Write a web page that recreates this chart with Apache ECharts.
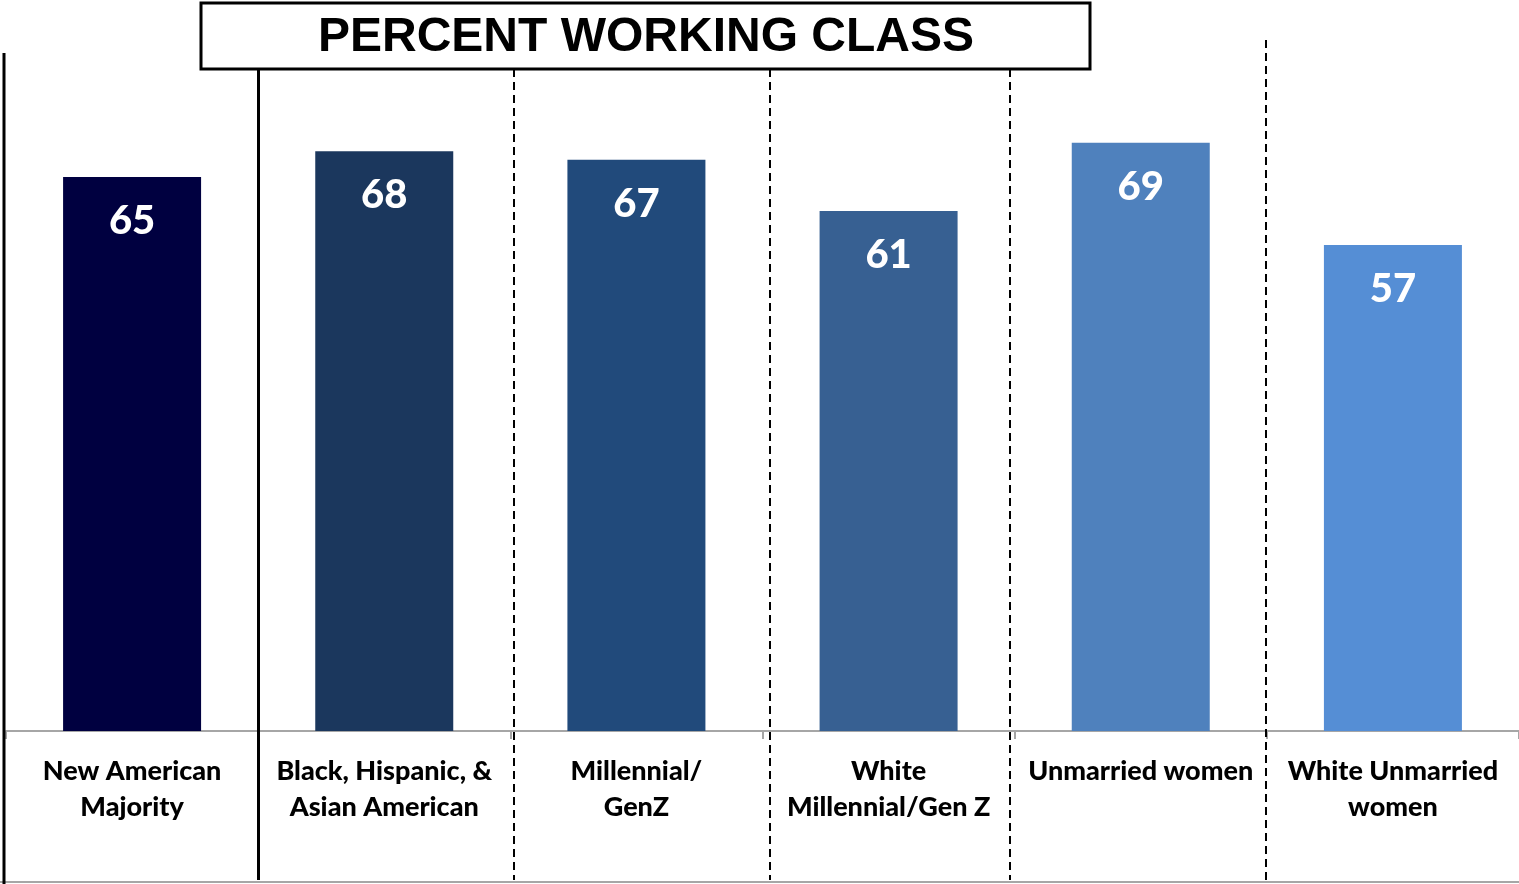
<!DOCTYPE html>
<html>
<head>
<meta charset="utf-8">
<script src="https://cdn.jsdelivr.net/npm/echarts@6/dist/echarts.min.js"></script>
<style>html,body{margin:0;padding:0;background:#fff}#c{width:1519px;height:884px}</style>
</head>
<body>
<div id="c"></div>
<script>
const categories = ['New American\nMajority', 'Black, Hispanic, &\nAsian American', 'Millennial/\nGenZ', 'White\nMillennial/Gen Z', 'Unmarried women', 'White Unmarried\nwomen'];
const values = [65, 68, 67, 61, 69, 57];
const barColors = ['#000040', '#1b375d', '#214a7b', '#376092', '#4f81bd', '#558ed5'];
const titleText = 'PERCENT WORKING CLASS';

const chart = echarts.init(document.getElementById('c'), null, {renderer: 'canvas'});
const vline = (x, y1, y2, dashed) => ({
  type: 'line', z: 100,
  shape: {x1: x, y1: y1, x2: x, y2: y2},
  style: {stroke: '#000', lineWidth: dashed ? 2 : 3, lineDash: dashed ? [8, 5] : null}
});
chart.setOption({
  animation: false,
  grid: {left: 6, right: 0, top: 49, bottom: 153},
  xAxis: {
    type: 'category',
    data: categories,
    axisLine: {lineStyle: {color: '#a6a6a6', width: 2}},
    axisTick: {show: true, length: 8, lineStyle: {color: '#a6a6a6', width: 2}},
    axisLabel: {
      margin: 22, lineHeight: 36, color: '#000',
      fontFamily: 'Lato', fontWeight: 900, fontSize: 27, interval: 0
    }
  },
  yAxis: {type: 'value', min: 0, max: 80, show: false, splitLine: {show: false}},
  series: [{
    type: 'bar',
    data: values.map((v, i) => ({value: v, itemStyle: {color: barColors[i]}})),
    barWidth: 138,
    label: {
      show: true, position: 'insideTop', distance: 24,
      color: '#fff', fontFamily: 'Lato', fontWeight: 900, fontSize: 40
    }
  }],
  graphic: [
    {type: 'line', shape: {x1: 0, y1: 882, x2: 1519, y2: 882}, style: {stroke: '#a6a6a6', lineWidth: 2}},
    vline(4, 53, 884, false),
    vline(258.5, 69, 880, false),
    vline(514, 69, 880, true),
    vline(770, 69, 880, true),
    vline(1010, 69, 880, true),
    vline(1266, 40, 880, true),
    {type: 'rect', z: 100, shape: {x: 201, y: 3, width: 889, height: 66},
     style: {fill: '#fff', stroke: '#000', lineWidth: 3}},
    {type: 'text', z: 101, x: 646, y: 38,
     style: {text: titleText, fill: '#000', font: 'bold 48px "Liberation Sans", Arial, sans-serif',
             align: 'center', verticalAlign: 'middle'}}
  ]
});
</script>
</body>
</html>
